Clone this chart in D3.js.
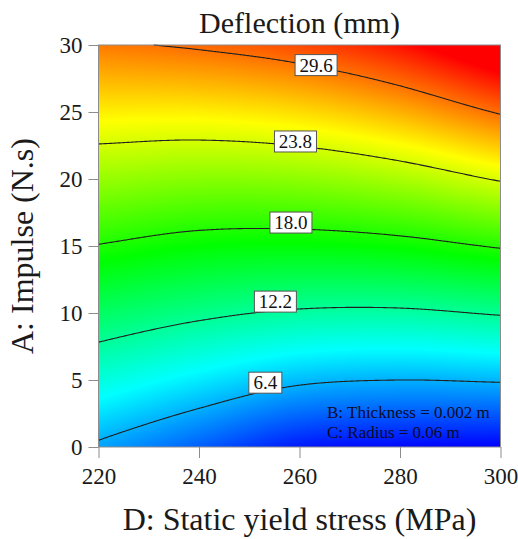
<!DOCTYPE html>
<html>
<head>
<meta charset="utf-8">
<script src="https://cdn.jsdelivr.net/npm/d3@7"></script>
<style>
body { margin: 0; background: #fff; }
</style>
</head>
<body>
<svg width="518" height="539"></svg>
<script>
var svg = d3.select("svg"),
	width = +svg.attr("width"),
	height = +svg.attr("height");

var serif = "'Liberation Serif', 'Times New Roman', serif";

//grid of the response (rows = impulse, cols = stress)
var stress = [220, 240, 260, 280, 300];
var impulse = [0, 5, 10, 15, 20, 25, 30];
var deflection = [
	[6.0, 3.8, 1.6, 1.05, 0.8],
	[10.0, 8.3, 6.8, 6.4, 6.6],
	[13.9, 12.7, 11.9, 11.8, 12.4],
	[17.9, 17.0, 16.8, 17.2, 18.2],
	[21.8, 21.3, 21.5, 22.4, 24.0],
	[25.6, 25.6, 26.2, 27.6, 29.8],
	[29.3, 29.9, 30.9, 32.7, 35.6]
];

//contour levels and where their labels sit
var levels = [6.4, 12.2, 18.0, 23.8, 29.6];
var labelStress = [253.2, 255.2, 258.3, 259.2, 263.3];
var labelImpulse = [4.8, 10.85, 16.75, 22.8, 28.5];

//tick labels
var stressTicks = [220, 240, 260, 280, 300];
var impulseTicks = [0, 5, 10, 15, 20, 25, 30];

//colour range of the map
var colorDomain = [0.8, 33.2];
var colorStops = ["#0000ff", "#00ffff", "#00ff00", "#ffff00", "#ff0000"];

var factors = ["B: Thickness = 0.002 m", "C: Radius = 0.06 m"];

var margin = {top: 45, right: 17.5, bottom: 92, left: 98.5};
var plotW = width - margin.left - margin.right,
	plotH = height - margin.top - margin.bottom;

var x = d3.scaleLinear().domain([220, 300]).range([margin.left, margin.left + plotW]);
var y = d3.scaleLinear().domain([0, 30]).range([margin.top + plotH, margin.top]);

//fractional grid index for a value
var sIndex = d3.scaleLinear().domain(d3.extent(stress)).range([0, stress.length - 1]);
var iIndex = d3.scaleLinear().domain(d3.extent(impulse)).range([0, impulse.length - 1]);

var span = colorDomain[1] - colorDomain[0];
var color = d3.scaleLinear()
	.domain(colorStops.map(function (c, k) { return colorDomain[0] + span * k / (colorStops.length - 1); }))
	.range(colorStops)
	.clamp(true);

//catmull-rom through the grid values so the surface is smooth
function cr(vals, t) {
	var n = vals.length;
	var k = Math.max(0, Math.min(n - 2, Math.floor(t)));
	var u = t - k;
	var p1 = vals[k], p2 = vals[k + 1];
	var p0 = k > 0 ? vals[k - 1] : 2 * p1 - p2;
	var p3 = k + 2 < n ? vals[k + 2] : 2 * p2 - p1;
	return 0.5 * (2 * p1 + (p2 - p0) * u + (2 * p0 - 5 * p1 + 4 * p2 - p3) * u * u + (3 * p1 - p0 - 3 * p2 + p3) * u * u * u);
}

function surface(s, i) {
	var ts = sIndex(s);
	var col = deflection.map(function (row) { return cr(row, ts); });
	return cr(col, iIndex(i));
}

//paint the colour map into a canvas, then put it in the svg
var cw = Math.round(plotW), ch = Math.round(plotH);
var canvas = document.createElement("canvas");
canvas.width = cw;
canvas.height = ch;
var ctx = canvas.getContext("2d");
var img = ctx.createImageData(cw, ch);
for (var py = 0; py < ch; py++) {
	var iv = y.invert(margin.top + py + 0.5);
	for (var px = 0; px < cw; px++) {
		var sv = x.invert(margin.left + px + 0.5);
		var c = d3.rgb(color(surface(sv, iv)));
		var o = (py * cw + px) * 4;
		img.data[o] = c.r;
		img.data[o + 1] = c.g;
		img.data[o + 2] = c.b;
		img.data[o + 3] = 255;
	}
}
ctx.putImageData(img, 0, 0);

svg.append("image")
	.attr("x", margin.left)
	.attr("y", margin.top)
	.attr("width", plotW)
	.attr("height", plotH)
	.attr("preserveAspectRatio", "none")
	.attr("href", canvas.toDataURL());

//find impulse where the surface hits the level at a given stress
function solve(s, level) {
	var lo = 0, hi = 30;
	if (surface(s, lo) > level || surface(s, hi) < level) return null;
	for (var n = 0; n < 40; n++) {
		var mid = (lo + hi) / 2;
		if (surface(s, mid) < level) lo = mid; else hi = mid;
	}
	return (lo + hi) / 2;
}

var line = d3.line()
	.defined(function (d) { return d[1] !== null; })
	.x(function (d) { return x(d[0]); })
	.y(function (d) { return y(d[1]); });

var samples = d3.range(220, 300.001, 0.25);

svg.append("g")
	.attr("class", "contours")
	.selectAll("path")
	.data(levels)
	.enter().append("path")
	.attr("d", function (lv) {
		return line(samples.map(function (s) { return [s, solve(s, lv)]; }));
	})
	.attr("fill", "none")
	.attr("stroke", "#202020")
	.attr("stroke-width", 1.1);

//contour labels
var lab = svg.append("g")
	.attr("class", "labels")
	.selectAll("g")
	.data(levels)
	.enter().append("g")
	.attr("transform", function (d, k) {
		return "translate(" + x(labelStress[k]) + "," + y(labelImpulse[k]) + ")";
	});

lab.append("rect")
	.attr("x", function (d) { return d < 10 ? -16.5 : -21; })
	.attr("y", -10.5)
	.attr("width", function (d) { return d < 10 ? 33 : 42; })
	.attr("height", 21)
	.attr("fill", "#fff")
	.attr("stroke", "#555")
	.attr("stroke-width", 1);

lab.append("text")
	.attr("text-anchor", "middle")
	.attr("dy", "0.35em")
	.attr("font-family", serif)
	.attr("font-size", 19)
	.attr("fill", "#111")
	.text(function (d) { return d.toFixed(1); });

//frame
svg.append("rect")
	.attr("x", margin.left)
	.attr("y", margin.top)
	.attr("width", plotW)
	.attr("height", plotH)
	.attr("fill", "none")
	.attr("stroke", "#8c8c8c")
	.attr("stroke-width", 1);

//axes
var xAxis = svg.append("g")
	.attr("transform", "translate(0," + (margin.top + plotH) + ")")
	.call(d3.axisBottom(x).tickValues(stressTicks).tickSize(11).tickSizeOuter(0).tickPadding(10).tickFormat(d3.format("d")));

var yAxis = svg.append("g")
	.attr("transform", "translate(" + margin.left + ",0)")
	.call(d3.axisLeft(y).tickValues(impulseTicks).tickSize(10).tickSizeOuter(0).tickPadding(6).tickFormat(d3.format("d")));

[xAxis, yAxis].forEach(function (a) {
	a.attr("font-family", serif).attr("font-size", 23);
	a.select(".domain").remove();
	a.selectAll("line").attr("stroke", "#8c8c8c");
	a.selectAll("text").attr("fill", "#1a1a1a");
});

//titles
svg.append("text")
	.attr("x", margin.left + plotW / 2)
	.attr("y", 33)
	.attr("text-anchor", "middle")
	.attr("fill", "#1a1a1a")
	.attr("font-family", serif)
	.attr("font-size", 30)
	.text("Deflection (mm)");

svg.append("text")
	.attr("x", margin.left + plotW / 2)
	.attr("y", 530)
	.attr("text-anchor", "middle")
	.attr("fill", "#1a1a1a")
	.attr("font-family", serif)
	.attr("font-size", 32)
	.text("D: Static yield stress (MPa)");

svg.append("text")
	.attr("transform", "translate(33," + (margin.top + plotH / 2) + ") rotate(-90)")
	.attr("text-anchor", "middle")
	.attr("fill", "#1a1a1a")
	.attr("font-family", serif)
	.attr("font-size", 32)
	.text("A: Impulse (N.s)");

//fixed factors note
svg.append("g")
	.selectAll("text")
	.data(factors)
	.enter().append("text")
	.attr("x", 327)
	.attr("y", function (d, k) { return 418 + k * 20; })
	.attr("fill", "#0a0a2a")
	.attr("font-family", serif)
	.attr("font-size", 17)
	.text(function (d) { return d; });
</script>
</body>
</html>
